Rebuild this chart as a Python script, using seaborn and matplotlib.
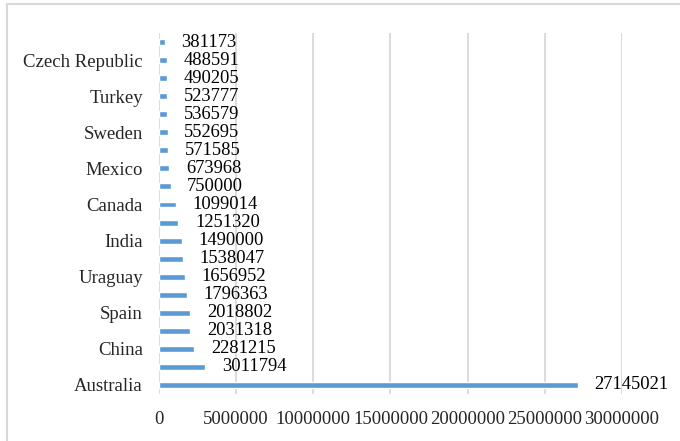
import matplotlib
matplotlib.use("Agg")
import matplotlib.pyplot as plt
import matplotlib.patches as mpatches
import seaborn as sns
import pandas as pd

# Organic area by country, largest first
countries = [
    "Australia", "Argentina", "China", "United States", "Spain",
    "Italy", "Uraguay", "France", "India", "Germany",
    "Canada", "Brazil", "Mexico", "Austria", "Sweden",
    "Poland", "Turkey", "United Kingdom", "Czech Republic", "Ukraine",
]
values = [
    27145021, 3011794, 2281215, 2031318, 2018802,
    1796363, 1656952, 1538047, 1490000, 1251320,
    1099014, 750000, 673968, 571585, 552695,
    536579, 523777, 490205, 488591, 381173,
]
x_ticks = [0, 5000000, 10000000, 15000000, 20000000, 25000000, 30000000]

df = pd.DataFrame({"country": countries, "value": values})
order = countries[::-1]  # smallest at the top, Australia at the bottom

sns.set_style("white")
plt.rcParams["font.family"] = ["Liberation Serif", "DejaVu Serif"]

fig = plt.figure(figsize=(6.8, 4.41), dpi=100)
ax = fig.add_axes([0.2338, 0.1066, 0.9147 - 0.2338, 0.925 - 0.1066])

sns.barplot(data=df, x="value", y="country", order=order, orient="h",
            color="#5B9BD5", saturation=1, width=0.33, ax=ax)

for c in ax.containers:
    ax.bar_label(c, labels=[f"{int(v)}" for v in c.datavalues],
                 padding=12, fontsize=13.3, color="black")

ax.set_xlim(0, 30000000)
ax.set_xticks(x_ticks)
ax.set_xticklabels([str(t) for t in x_ticks], fontsize=13.5)
ax.set_yticks(range(len(order)))
ax.set_yticklabels([name if (len(order) - 1 - i) % 2 == 0 else ""
                    for i, name in enumerate(order)], fontsize=13.5)
ax.set_ylim(len(order) - 0.5, -0.5)
ax.tick_params(axis="x", length=0, pad=12.5)
ax.tick_params(axis="y", length=0, pad=11.5)
ax.set_xlabel("")
ax.set_ylabel("")
for s in ax.spines.values():
    s.set_visible(False)
ax.grid(axis="x", color="#d9d9d9", linewidth=1.3)
ax.grid(axis="y", visible=False)
ax.set_axisbelow(True)

# light frame around the chart area
fig.patches.append(mpatches.Rectangle((7 / 680, -0.1), 1.2, 1 - 4 / 441 + 0.1,
                                      transform=fig.transFigure, fill=False,
                                      edgecolor="#d9d9d9", linewidth=1.5))

fig.savefig("out.png", dpi=100)
